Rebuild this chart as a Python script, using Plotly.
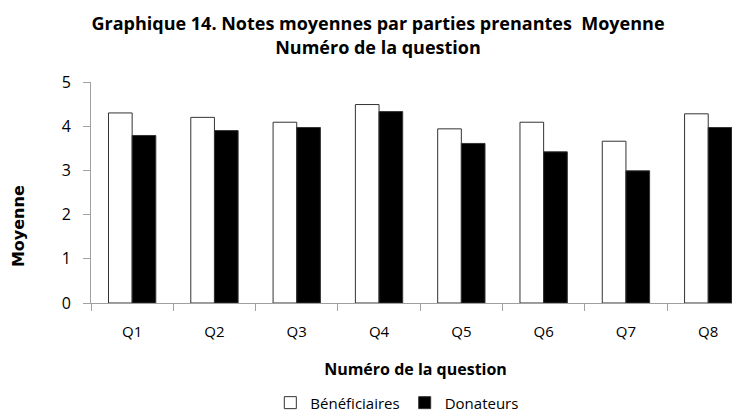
import plotly.graph_objects as go

categories = ["Q1", "Q2", "Q3", "Q4", "Q5", "Q6", "Q7", "Q8"]
beneficiaires = [4.30, 4.20, 4.09, 4.49, 3.94, 4.09, 3.66, 4.28]
donateurs = [3.79, 3.90, 3.97, 4.33, 3.61, 3.42, 2.99, 3.97]
y_ticks = [0, 1, 2, 3, 4, 5]

FONT = "Open Sans"

fig = go.Figure()
fig.add_trace(go.Bar(
    x=categories, y=beneficiaires, name="Bénéficiaires",
    marker=dict(color="white", line=dict(color="#333333", width=1)),
))
fig.add_trace(go.Bar(
    x=categories, y=donateurs, name="Donateurs",
    marker=dict(color="black", line=dict(color="#333333", width=1)),
))

fig.update_layout(
    width=740, height=412,
    margin=dict(l=83, r=8, t=74, b=117, autoexpand=False),
    paper_bgcolor="white", plot_bgcolor="white",
    barmode="group", bargap=0.425, bargroupgap=0,
    font=dict(family=FONT, color="black", size=15),
    title=dict(
        text="<b>Graphique 14. Notes moyennes par parties prenantes  Moyenne<br>Numéro de la question</b>",
        x=(378 - 8) / 740, xanchor="center", y=0.946, yanchor="top",
        font=dict(family=FONT, size=18, color="black"),
    ),
    legend=dict(
        orientation="h", x=0.472, xanchor="center", y=-0.452, yanchor="middle",
        font=dict(family=FONT, size=15),
        traceorder="normal", itemwidth=30,
    ),
    showlegend=True,
    annotations=[dict(
        text="<b>Moyenne</b>", textangle=-90,
        xref="paper", yref="paper", x=0, y=0.348,
        xanchor="center", yanchor="middle", xshift=-73, showarrow=False,
        font=dict(family="DejaVu Sans", size=16, color="black"),
    )],
)

fig.update_xaxes(
    range=[-0.5, 7.386], automargin=False,
    showline=True, linecolor="#a0a0a0", linewidth=1,
    ticks="outside", tickson="boundaries", ticklen=7, tickcolor="#a0a0a0",
    showgrid=False, ticklabelstandoff=15,
    tickfont=dict(family=FONT, size=15),
    title=dict(text="<b>Numéro de la question</b>", font=dict(family=FONT, size=16), standoff=23),
)
fig.update_yaxes(
    range=[0, 5], tickvals=y_ticks, automargin=False,
    showline=True, linecolor="#a0a0a0", linewidth=1,
    ticks="outside", ticklen=7, tickcolor="#a0a0a0",
    showgrid=False, zeroline=False, ticklabelstandoff=9,
    tickfont=dict(family=FONT, size=16),
)

fig.write_html("out.html")
